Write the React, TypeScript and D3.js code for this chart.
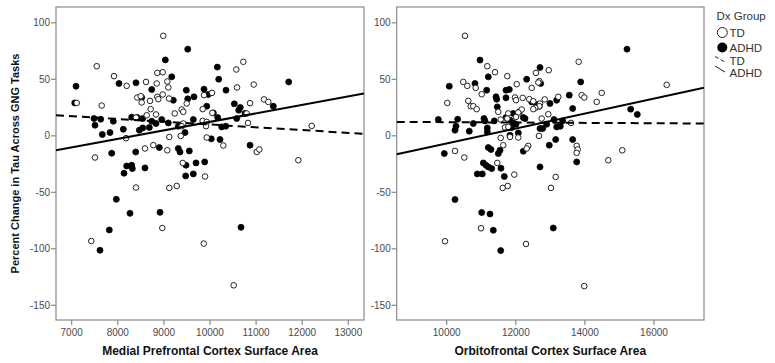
import React from 'react';
import * as d3 from 'd3';

type P = [number, number];

const yTicks = [100, 50, 0, -50, -100, -150];
const mpfcTicks = [7000, 8000, 9000, 10000, 11000, 12000, 13000];
const ofcTicks = [10000, 12000, 14000, 16000];
const yDomain: P = [-163, 114];
const mpfcDomain: P = [6660, 13340];
const ofcDomain: P = [8553, 17447];

const legendTitle = 'Dx Group';
const groups = ['TD', 'ADHD'];
const yTitle = 'Percent Change in Tau Across GNG Tasks';
const mpfcTitle = 'Medial Prefrontal Cortex Surface Area';
const ofcTitle = 'Orbitofrontal Cortex Surface Area';

const mpfcTD: P[] = [
  [8987, 88.5], [7543, 61.6], [7918, 52.8], [8193, 44.2], [8612, 47.7], [8857, 55.7], [8974, 56.3],
  [8844, 46.3], [9074, 48.1], [9096, 42.8], [8974, 36.6], [8857, 34.5], [8879, 32.4], [9111, 33.0],
  [8423, 33.9], [8497, 35.1], [8519, 29.5], [8699, 30.9], [8714, 23.6], [8627, 18.2], [8829, 18.9],
  [9235, 19.8], [9386, 23.3], [9421, 21.2], [9495, 28.6], [9870, 36.0], [10044, 38.0], [9842, 23.6],
  [10050, 20.3], [9842, 13.2], [9929, 12.3], [9914, 8.5], [10723, 65.5], [10571, 58.7], [10586, 42.8],
  [10948, 45.4], [10868, 28.9], [11172, 32.2], [11265, 30.0], [10796, 19.8], [10825, 11.4], [12206, 8.8],
  [7651, 26.8], [7109, 29.1], [8395, 16.2], [8178, -2.1], [9117, -1.0], [9365, -0.1], [9421, 10.9],
  [9386, 8.5], [9929, -1.5], [10289, -8.6], [8590, -11.2], [8770, -8.3], [9074, -12.8], [11013, -14.3],
  [11070, -12.1], [7506, -19.2], [11916, -21.6], [9408, -24.0], [9892, -36.0], [8395, -45.8], [9117, -46.1],
  [9278, -44.4], [8966, -81.6], [7426, -93.1], [9864, -95.4], [10514, -132.3],
];

const mpfcADHD: P[] = [
  [9517, 76.7], [9031, 67.2], [10159, 60.8], [9170, 52.2], [10189, 50.1], [8027, 46.3], [8395, 46.9],
  [11707, 47.7], [7094, 43.9], [8736, 41.0], [9486, 40.4], [9870, 41.3], [9963, 36.6], [10347, 40.4],
  [9653, 34.5], [9517, 32.7], [9204, 31.5], [7066, 29.1], [10527, 28.3], [10657, 25.1], [10623, 22.7],
  [11373, 26.2], [9929, 26.2], [8519, 33.9], [8302, 16.5], [8423, 16.2], [8541, 15.3], [7484, 15.3],
  [7630, 14.7], [7506, 9.4], [7903, 12.9], [8736, 12.9], [8829, 10.9], [8953, 14.4], [9096, 11.4],
  [9638, 14.4], [10072, 20.3], [10167, 16.2], [10579, 15.3], [10759, 19.8], [9313, 8.5], [10254, 7.9],
  [10341, 8.5], [8120, 5.8], [7831, 2.9], [7664, 1.2], [8467, 5.0], [8541, 7.0], [8684, 7.4],
  [9458, 2.9], [10028, -2.7], [10217, -3.3], [10868, -8.3], [8901, -10.4], [9313, -11.2], [9350, -14.3],
  [9551, -13.4], [8389, -14.3], [7868, -15.4], [8193, -26.7], [8302, -26.0], [8315, -29.0], [8135, -33.1],
  [8590, -28.4], [9480, -26.0], [9697, -24.0], [9885, -23.1], [9473, -35.5], [9638, -33.7], [7968, -56.2],
  [8265, -68.6], [8916, -67.7], [7816, -83.3], [7614, -101.3], [10673, -81.0],
];

const ofcTD: P[] = [
  [10530, 88.5], [10480, 47.7], [10596, 44.2], [10839, 42.4], [11175, 61.6], [11398, 56.3], [11754, 52.8],
  [12026, 45.7], [11013, 36.8], [10017, 29.1], [10625, 30.9], [10695, 26.2], [10770, 26.2], [10868, 23.6],
  [11493, 21.2], [11977, 33.9], [12006, 31.5], [12199, 33.6], [12390, 32.4], [12506, 30.6], [12584, 55.7],
  [12680, 48.4], [12651, 47.2], [12460, 42.4], [12952, 58.1], [12836, 32.2], [12700, 28.6], [13230, 34.5],
  [12680, 26.2], [12564, 24.7], [12506, 23.6], [12171, 23.3], [12072, 20.6], [12006, 16.7], [11783, 19.8],
  [11754, 15.3], [11563, 14.4], [12749, 15.3], [12940, 19.1], [13820, 65.5], [13907, 36.0], [13982, 33.9],
  [14341, 30.0], [14486, 38.0], [13597, 11.4], [11687, 7.4], [11783, 7.9], [11832, -1.0], [12072, -1.5],
  [11563, -1.9], [11638, -8.3], [12361, -8.9], [12315, -11.2], [12671, -0.1], [13762, -8.9], [13791, -12.1],
  [13762, -15.1], [10240, -13.4], [10509, -19.2], [15082, -12.8], [16367, 45.1], [14677, -21.6], [11464, -24.0],
  [11956, -34.3], [13154, -36.4], [11621, -46.1], [11765, -44.4], [13018, -46.1], [10993, -81.8], [9951, -93.3],
  [12295, -95.7], [13982, -133.0],
];

const ofcADHD: P[] = [
  [15218, 76.7], [10964, 67.0], [12700, 60.5], [11204, 52.2], [12315, 50.1], [12720, 46.3], [13878, 47.7],
  [10075, 43.9], [10819, 46.3], [11158, 40.4], [11716, 40.4], [11812, 41.0], [11427, 34.5], [11447, 32.4],
  [11716, 33.6], [13548, 36.0], [13183, 31.5], [12605, 27.7], [12680, 26.2], [12989, 28.6], [12460, 30.0],
  [11464, 25.6], [13646, 24.2], [11927, 19.8], [12101, 21.2], [12266, 15.3], [15325, 23.6], [15516, 18.9],
  [9757, 14.4], [10318, 14.7], [11079, 15.3], [11108, 13.2], [11377, 13.2], [11716, 16.2], [11832, 13.8],
  [11927, 11.4], [12006, 10.3], [11881, 7.4], [10269, 8.5], [10240, 5.0], [10770, 10.9], [10654, 4.1],
  [11175, 7.0], [11175, 3.5], [12217, 16.2], [12700, 6.5], [12778, 6.5], [13105, 14.4], [13183, 7.9],
  [13288, 8.5], [13357, 13.2], [12894, 10.3], [11832, 0.5], [12072, 2.6], [13154, -3.3], [13646, -3.3],
  [12969, -8.3], [11204, -10.4], [11282, -12.1], [11543, -12.8], [11493, -15.7], [12217, -13.6], [9931, -15.7],
  [13762, -23.1], [11059, -24.0], [11137, -26.0], [11204, -27.5], [11302, -29.0], [11571, -28.7], [11667, -36.0],
  [10886, -33.7], [11030, -33.7], [12700, -27.5], [10240, -56.4], [11013, -67.9], [11253, -69.2], [11349, -83.6],
  [13085, -81.6], [11563, -101.6],
];

const mpfcFitTD: P[] = [[6660, 18.2], [13340, 1.8]];
const mpfcFitADHD: P[] = [[6660, -12.8], [13340, 37.5]];
const ofcFitTD: P[] = [[8553, 12.3], [17447, 10.9]];
const ofcFitADHD: P[] = [[8553, -16.3], [17447, 42.5]];

const FONT = 'Arial, "Liberation Sans", sans-serif';
const FRAME = '#8a8a8a';
const TICKTXT = '#4a4a4a';

const top = 7;
const bottom = 320;

function Panel(props: {
  x0: number; x1: number; xDomain: P; xTicks: number[]; title: string;
  td: P[]; adhd: P[]; fitTD: P[]; fitADHD: P[];
}) {
  const { x0, x1, xDomain, xTicks, title, td, adhd, fitTD, fitADHD } = props;
  const x = d3.scaleLinear().domain(xDomain).range([x0, x1]);
  const y = d3.scaleLinear().domain(yDomain).range([bottom, top]);
  const line = d3.line<P>().x(d => x(d[0])).y(d => y(d[1]));
  const clipId = 'clip' + Math.round(x0);
  return (
    <g>
      <defs>
        <clipPath id={clipId}>
          <rect x={x0} y={top} width={x1 - x0} height={bottom - top} />
        </clipPath>
      </defs>
      <rect x={x0} y={top} width={x1 - x0} height={bottom - top} fill="white" stroke={FRAME} strokeWidth={1.2} />
      {yTicks.map(t => (
        <g key={'y' + t}>
          <line x1={x0 - 5} x2={x0} y1={y(t)} y2={y(t)} stroke={FRAME} strokeWidth={1.2} />
          <text x={x0 - 6} y={y(t)} dy="0.35em" textAnchor="end" fontSize={10} fill={TICKTXT} fontFamily={FONT}>{t}</text>
        </g>
      ))}
      {xTicks.map(t => (
        <g key={'x' + t}>
          <line x1={x(t)} x2={x(t)} y1={bottom} y2={bottom + 5} stroke={FRAME} strokeWidth={1.2} />
          <text x={x(t)} y={bottom + 15.5} textAnchor="middle" fontSize={10} fill={TICKTXT} fontFamily={FONT}>{t}</text>
        </g>
      ))}
      <text x={(x0 + x1) / 2} y={354.5} textAnchor="middle" fontSize={12} fontWeight="bold" fill="#111" fontFamily={FONT}>{title}</text>
      <g clipPath={`url(#${clipId})`}>
        {adhd.map((d, i) => (
          <circle key={'a' + i} cx={x(d[0])} cy={y(d[1])} r={3} fill="#000" stroke="#000" strokeWidth={0.8} />
        ))}
        {td.map((d, i) => (
          <circle key={'t' + i} cx={x(d[0])} cy={y(d[1])} r={2.8} fill="white" stroke="#222" strokeWidth={1} />
        ))}
        <path d={line(fitTD) || ''} fill="none" stroke="#000" strokeWidth={2} strokeDasharray="8,5" />
        <path d={line(fitADHD) || ''} fill="none" stroke="#000" strokeWidth={2} />
      </g>
    </g>
  );
}

export default function App() {
  return (
    <svg width={775} height={363} style={{ position: 'absolute', left: 0, top: 0, background: 'white' }}>
      <rect x={0} y={0} width={775} height={363} fill="white" />
      <text transform={`translate(15,163.5) rotate(-90)`} textAnchor="middle" dy="0.35em" fontSize={11} fontWeight="bold" fill="#111" fontFamily={FONT}>{yTitle}</text>
      <Panel x0={56} x1={364} xDomain={mpfcDomain} xTicks={mpfcTicks} title={mpfcTitle}
        td={mpfcTD} adhd={mpfcADHD} fitTD={mpfcFitTD} fitADHD={mpfcFitADHD} />
      <Panel x0={396.7} x1={704} xDomain={ofcDomain} xTicks={ofcTicks} title={ofcTitle}
        td={ofcTD} adhd={ofcADHD} fitTD={ofcFitTD} fitADHD={ofcFitADHD} />
      <g fontFamily={FONT} fontSize={11.5} fill="#333">
        <text x={716.5} y={20}>{legendTitle}</text>
        <circle cx={722.3} cy={32.5} r={5} fill="white" stroke="#222" strokeWidth={1} />
        <text x={729.5} y={36.7}>{groups[0]}</text>
        <circle cx={722.3} cy={47.5} r={5} fill="#000" />
        <text x={729.5} y={52}>{groups[1]}</text>
        <line x1={715} y1={56.5} x2={725} y2={62} stroke="#222" strokeWidth={1} strokeDasharray="4,2.5" />
        <text x={729.5} y={65}>{groups[0]}</text>
        <line x1={715} y1={66} x2={725} y2={72} stroke="#222" strokeWidth={1} />
        <text x={729.5} y={76.7}>{groups[1]}</text>
      </g>
    </svg>
  );
}
